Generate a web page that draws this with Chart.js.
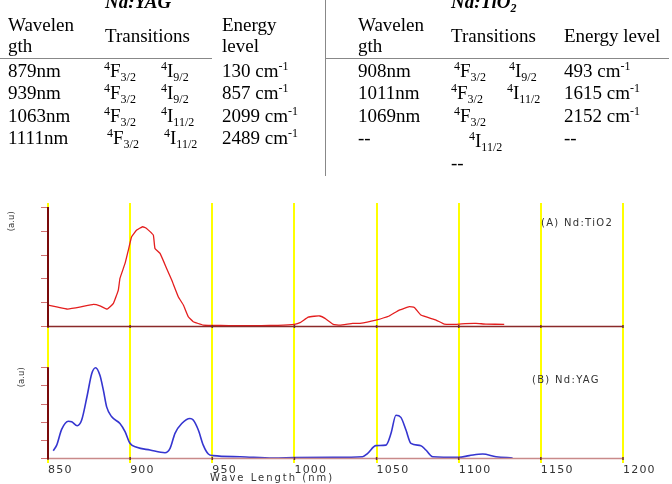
<!DOCTYPE html>
<html><head><meta charset="utf-8">
<script src="https://cdn.jsdelivr.net/npm/chart.js@4"></script>
<style>
html,body{margin:0;padding:0;background:#fff;}
#wrap{position:relative;width:672px;height:484px;overflow:hidden;background:#fff;}
canvas{position:absolute;left:0;top:0;}
.t{position:absolute;font-family:"Liberation Serif",serif;font-size:19px;line-height:22px;color:#000;white-space:nowrap;}
.t sup{font-size:12px;vertical-align:7px;line-height:0;}
.t sub{font-size:12px;vertical-align:-4px;line-height:0;}
.ttl{font-weight:bold;font-style:italic;}
.hl{position:absolute;height:1px;background:#888;}
.vl{position:absolute;width:1px;background:#888;}
.lab{position:absolute;font-family:"DejaVu Sans",sans-serif;color:#333;white-space:nowrap;line-height:1;}
</style></head>
<body><div id="wrap">
<canvas id="c" width="672" height="484"></canvas>

<div class="t ttl" style="left:105px;top:-9px">Nd:YAG</div>
<div class="t" style="left:8px;top:14px">Wavelen</div>
<div class="t" style="left:8px;top:35px">gth</div>
<div class="t" style="left:105px;top:25px">Transitions</div>
<div class="t" style="left:222px;top:14px">Energy</div>
<div class="t" style="left:222px;top:35px">level</div>

<div class="t" style="left:8px;top:60px">879nm</div>
<div class="t" style="left:104px;top:60px"><sup>4</sup>F<sub>3/2</sub></div>
<div class="t" style="left:161px;top:60px"><sup>4</sup>I<sub>9/2</sub></div>
<div class="t" style="left:222px;top:60px">130 cm<sup>-1</sup></div>

<div class="t" style="left:8px;top:82px">939nm</div>
<div class="t" style="left:104px;top:82px"><sup>4</sup>F<sub>3/2</sub></div>
<div class="t" style="left:161px;top:82px"><sup>4</sup>I<sub>9/2</sub></div>
<div class="t" style="left:222px;top:82px">857 cm<sup>-1</sup></div>

<div class="t" style="left:8px;top:105px">1063nm</div>
<div class="t" style="left:104px;top:105px"><sup>4</sup>F<sub>3/2</sub></div>
<div class="t" style="left:161px;top:105px"><sup>4</sup>I<sub>11/2</sub></div>
<div class="t" style="left:222px;top:105px">2099 cm<sup>-1</sup></div>

<div class="t" style="left:8px;top:127px">1111nm</div>
<div class="t" style="left:107px;top:127px"><sup>4</sup>F<sub>3/2</sub></div>
<div class="t" style="left:164px;top:127px"><sup>4</sup>I<sub>11/2</sub></div>
<div class="t" style="left:222px;top:127px">2489 cm<sup>-1</sup></div>

<div class="t ttl" style="left:451px;top:-9px">Nd:TiO<sub>2</sub></div>
<div class="t" style="left:358px;top:14px">Wavelen</div>
<div class="t" style="left:358px;top:35px">gth</div>
<div class="t" style="left:451px;top:25px">Transitions</div>
<div class="t" style="left:564px;top:25px">Energy level</div>

<div class="t" style="left:358px;top:60px">908nm</div>
<div class="t" style="left:454px;top:60px"><sup>4</sup>F<sub>3/2</sub></div>
<div class="t" style="left:509px;top:60px"><sup>4</sup>I<sub>9/2</sub></div>
<div class="t" style="left:564px;top:60px">493 cm<sup>-1</sup></div>

<div class="t" style="left:358px;top:82px">1011nm</div>
<div class="t" style="left:451px;top:82px"><sup>4</sup>F<sub>3/2</sub></div>
<div class="t" style="left:507px;top:82px"><sup>4</sup>I<sub>11/2</sub></div>
<div class="t" style="left:564px;top:82px">1615 cm<sup>-1</sup></div>

<div class="t" style="left:358px;top:105px">1069nm</div>
<div class="t" style="left:454px;top:105px"><sup>4</sup>F<sub>3/2</sub></div>
<div class="t" style="left:564px;top:105px">2152 cm<sup>-1</sup></div>

<div class="t" style="left:358px;top:127px">--</div>
<div class="t" style="left:469px;top:130px"><sup>4</sup>I<sub>11/2</sub></div>
<div class="t" style="left:564px;top:127px">--</div>
<div class="t" style="left:451px;top:152px">--</div>

<div class="hl" style="left:0;top:58px;width:212px"></div>
<div class="hl" style="left:325px;top:58px;width:344px"></div>
<div class="vl" style="left:325px;top:0;height:176px"></div>

<div class="lab" style="left:1px;top:217px;font-size:8.5px;transform:rotate(-90deg);transform-origin:center;">(a.u)</div>
<div class="lab" style="left:11px;top:373px;font-size:8.5px;transform:rotate(-90deg);transform-origin:center;">(a.u)</div>
<div class="lab" style="left:541px;top:218px;font-size:10px;letter-spacing:1.3px;">(A) Nd:TiO2</div>
<div class="lab" style="left:532px;top:375px;font-size:10px;letter-spacing:1.3px;">(B) Nd:YAG</div>
<div class="lab" style="left:210px;top:473px;font-size:10px;letter-spacing:2px;">Wave Length (nm)</div>
</div>
<script>
// ---- data ----
const xTicks = [850, 900, 950, 1000, 1050, 1100, 1150, 1200];
const intensityTicks = [0, 1, 2, 3, 4, 5];

const tio2Wavelength = [850, 856, 862, 870, 877.6, 881.6, 886, 889.8, 892.8, 893.8, 896.9, 898.9, 900.9, 904, 907.6, 910, 914.1, 915.1, 918.2, 922.2, 925.3, 929.3, 932.4, 935.4, 938.4, 944.5, 950, 960, 970, 980, 990, 1000, 1003.4, 1008.4, 1012, 1015.5, 1018.6, 1023.6, 1027.7, 1035.5, 1039.9, 1049.6, 1057.7, 1063.8, 1069.9, 1073, 1077, 1086.2, 1091.2, 1098.3, 1104, 1110.5, 1116.6, 1127.7];
const tio2Intensity  = [0.88, 0.79, 0.71, 0.8, 0.91, 0.85, 0.71, 0.95, 1.51, 2.0, 2.63, 3.19, 3.75, 4.03, 4.17, 4.1, 3.82, 3.26, 3.05, 2.42, 1.93, 1.23, 0.88, 0.39, 0.18, 0.04, 0.03, 0.02, 0.02, 0.02, 0.03, 0.07, 0.14, 0.37, 0.41, 0.42, 0.32, 0.07, 0.04, 0.11, 0.11, 0.25, 0.42, 0.67, 0.81, 0.78, 0.46, 0.25, 0.08, 0.07, 0.1, 0.11, 0.08, 0.07];

const yagWavelength = [853.2, 855.3, 858.3, 862.4, 864.4, 867.8, 870.5, 873.9, 876.6, 879, 881.6, 883.7, 885.7, 888.8, 893.8, 896.9, 899.9, 904, 912.1, 921.2, 924.3, 927.3, 931.4, 936.4, 938.4, 941.5, 944.5, 947.6, 950.6, 966.9, 987, 1000, 1023.5, 1041.5, 1044.6, 1049.6, 1055.7, 1058.8, 1061.8, 1064.8, 1067.9, 1070.9, 1077, 1080, 1084.1, 1100, 1106.4, 1114.6, 1122.7, 1132.8];
const yagIntensity  = [0.4, 0.71, 1.58, 2.03, 2.0, 1.78, 2.09, 3.46, 4.65, 4.98, 4.56, 3.74, 2.82, 2.27, 1.9, 1.45, 0.81, 0.59, 0.44, 0.29, 0.53, 1.36, 1.9, 2.18, 2.09, 1.54, 0.71, 0.22, 0.13, 0.07, 0.0, 0.02, 0.04, 0.07, 0.26, 0.68, 0.71, 1.36, 2.36, 2.24, 1.54, 0.81, 0.68, 0.44, 0.07, 0.04, 0.13, 0.22, 0.07, 0.0];

const seriesLabels = ['(A) Nd:TiO2', '(B) Nd:YAG'];

const panelAxes = {
  id: 'panelAxes',
  beforeDraw(chart) { chart.ctx.letterSpacing = '1.2px'; },
  afterDatasetsDraw(chart) {
    const { ctx, scales } = chart;
    const x = scales.x;
    const x0 = x.getPixelForValue(xTicks[0]);
    const x1 = x.getPixelForValue(xTicks[xTicks.length - 1]);
    const panels = [[scales.yA, '#8a2a2a'], [scales.yB, '#c98a8a']];
    ctx.save();
    panels.forEach(([ys, baseCol]) => {
      const yb = ys.getPixelForValue(0);
      const yt = ys.getPixelForValue(intensityTicks[intensityTicks.length - 1]);
      ctx.strokeStyle = baseCol; ctx.lineWidth = 1.3;
      ctx.beginPath(); ctx.moveTo(x0, yb + 0.5); ctx.lineTo(x1, yb + 0.5); ctx.stroke();
      ctx.strokeStyle = '#6a3030'; ctx.lineWidth = 1.5;
      xTicks.forEach(v => { const px = x.getPixelForValue(v); ctx.beginPath(); ctx.moveTo(px, yb - 1); ctx.lineTo(px, yb + 2); ctx.stroke(); });
      ctx.strokeStyle = '#d07070'; ctx.lineWidth = 1;
      intensityTicks.forEach(v => { const py = Math.round(ys.getPixelForValue(v)) + 0.5; ctx.beginPath(); ctx.moveTo(x0 - 7, py); ctx.lineTo(x0, py); ctx.stroke(); });
      ctx.strokeStyle = '#7a0a0a'; ctx.lineWidth = 2;
      ctx.beginPath(); ctx.moveTo(x0, yb + 1); ctx.lineTo(x0, yt); ctx.stroke();
    });
    ctx.restore();
  }
};

new Chart(document.getElementById('c'), {
  type: 'line',
  data: {
    datasets: [
      { label: seriesLabels[0], yAxisID: 'yA', data: tio2Wavelength.map((w, i) => ({ x: w, y: tio2Intensity[i] })),
        borderColor: '#e41e1e', borderWidth: 1.3, pointRadius: 0, tension: 0.1, fill: false },
      { label: seriesLabels[1], yAxisID: 'yB', data: yagWavelength.map((w, i) => ({ x: w, y: yagIntensity[i] })),
        borderColor: '#3535d0', borderWidth: 1.6, pointRadius: 0, cubicInterpolationMode: 'monotone', fill: false }
    ]
  },
  options: {
    responsive: false, animation: false, devicePixelRatio: 1,
    layout: { padding: { left: 48, right: 49, top: 203, bottom: 0 } },
    plugins: { legend: { display: false }, tooltip: { enabled: false } },
    scales: {
      x: {
        type: 'linear', min: xTicks[0], max: xTicks[xTicks.length - 1],
        afterBuildTicks: s => { s.ticks = xTicks.map(v => ({ value: v })); },
        afterFit: s => { s.height = 21; },
        grid: { color: '#ffff00', lineWidth: 2, drawTicks: false },
        border: { display: false },
        ticks: { align: 'start', padding: 2, autoSkip: false, maxRotation: 0, color: '#333',
                 font: { family: 'DejaVu Sans', size: 11, lineHeight: 1 }, callback: v => String(v) }
      },
      yA: { display: false, min: -5.756, max: 5.168 },
      yB: { display: false, min: -0.276, max: 14.06 }
    }
  },
  plugins: [panelAxes]
});
</script>
</body></html>
